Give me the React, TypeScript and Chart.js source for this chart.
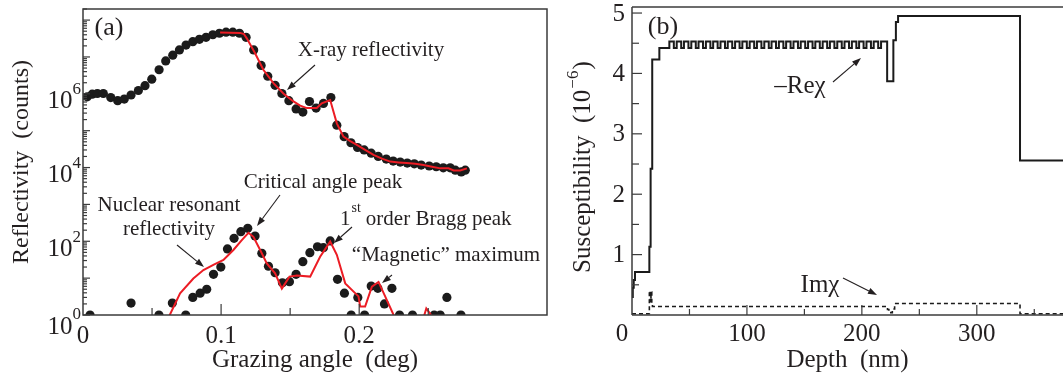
import React, { useEffect, useRef } from 'react';
import { Chart, registerables } from 'chart.js';

Chart.register(...registerables);

const FONT = '"Liberation Serif", "Times New Roman", serif';
const INK = '#231f20';
const RED = '#ec1c24';

// ---------- Panel (a): reflectivity ----------
const xrayAngle = [0.0031, 0.0067, 0.0104, 0.0147, 0.0201, 0.0251, 0.0299, 0.0348, 0.0401, 0.0449, 0.0498, 0.0551, 0.0599, 0.0650, 0.0698, 0.0746, 0.0795, 0.0843, 0.0891, 0.0940, 0.0988, 0.1036, 0.1085, 0.1133, 0.1181, 0.1236, 0.1290, 0.1338, 0.1391, 0.1440, 0.1491, 0.1543, 0.1592, 0.1640, 0.1688, 0.1741, 0.1795, 0.1838, 0.1891, 0.1940, 0.1988, 0.2036, 0.2087, 0.2138, 0.2196, 0.2246, 0.2297, 0.2348, 0.2399, 0.2449, 0.2507, 0.2558, 0.2609, 0.2659, 0.2696, 0.2739, 0.2768];
const xrayCounts = [8.3e5, 9.8e5, 1.02e6, 1.02e6, 7.9e5, 6.5e5, 7.2e5, 9.3e5, 1.23e6, 1.66e6, 2.5e6, 4.5e6, 7.8e6, 1.12e7, 1.55e7, 2.1e7, 2.6e7, 3.0e7, 3.4e7, 4.0e7, 4.4e7, 4.7e7, 4.7e7, 4.4e7, 3.4e7, 1.55e7, 5.9e6, 3.0e6, 1.7e6, 1.02e6, 6.5e5, 3.9e5, 3.2e5, 6.2e5, 4.1e5, 5.5e5, 7.9e5, 1.41e5, 6.9e4, 4.7e4, 3.5e4, 3.0e4, 2.45e4, 2.0e4, 1.7e4, 1.5e4, 1.41e4, 1.32e4, 1.26e4, 1.17e4, 1.10e4, 1.05e4, 9.8e3, 9.8e3, 8.5e3, 7.6e3, 8.5e3];

const xrayFitAngle = [0.0993, 0.1138, 0.1165, 0.1186, 0.1246, 0.1306, 0.1379, 0.1451, 0.1524, 0.1573, 0.1621, 0.1693, 0.1729, 0.1790, 0.1838, 0.1886, 0.1935, 0.1983, 0.2043, 0.2104, 0.2165, 0.2225, 0.2285, 0.2345, 0.2406, 0.2466, 0.2527, 0.2587, 0.2647, 0.2684, 0.2732, 0.2780];
const xrayFitCounts = [4.6e7, 4.5e7, 4.2e7, 3.2e7, 1.26e7, 4.5e6, 1.95e6, 1.02e6, 6.2e5, 4.8e5, 4.1e5, 4.1e5, 5.5e5, 6.8e5, 1.58e5, 6.9e4, 5.2e4, 4.1e4, 3.0e4, 2.2e4, 1.74e4, 1.45e4, 1.38e4, 1.32e4, 1.26e4, 1.17e4, 1.05e4, 9.5e3, 9.5e3, 8.3e3, 8.3e3, 9.5e3];

const nuclearAngle = [0.0051, 0.0348, 0.0550, 0.0647, 0.0744, 0.0795, 0.0848, 0.0896, 0.0945, 0.0998, 0.1046, 0.1094, 0.1143, 0.1193, 0.1246, 0.1295, 0.1343, 0.1391, 0.1444, 0.1495, 0.1543, 0.1592, 0.1643, 0.1698, 0.1741, 0.1790, 0.1843, 0.1893, 0.1942, 0.1990, 0.2039, 0.2087, 0.2135, 0.2183, 0.2237, 0.2292, 0.2386, 0.2543, 0.2587, 0.2635, 0.2737];
const nuclearCounts = [1, 2.1, 1, 2.1, 1, 3, 3.9, 5, 12.7, 20, 62, 120, 182, 225, 139, 47, 21, 14, 7.5, 8, 12.7, 28, 49, 71, 67, 102, 9.3, 3.9, 1, 3, 1, 6.1, 5.3, 2, 5.3, 1, 1, 1, 1, 3, 1];

const nuclearFitAngle = [0.0600, 0.0703, 0.0799, 0.0872, 0.0944, 0.1017, 0.1089, 0.1150, 0.1198, 0.1234, 0.1283, 0.1331, 0.1391, 0.1440, 0.1495, 0.1549, 0.1645, 0.1717, 0.1790, 0.1838, 0.1899, 0.1995, 0.2007, 0.2043, 0.2092, 0.2140, 0.2188, 0.2249, 0.2290, 0.2440, 0.2486, 0.2540, 0.2580];
const nuclearFitCounts = [0.6, 3.9, 9.8, 16.6, 23, 31, 58, 107, 170, 132, 58, 25, 13.5, 5.2, 11, 11.7, 11, 38, 98, 43, 7.2, 3.2, 1.7, 1.7, 5.9, 7.9, 3.2, 1.0, 0.4, 0.4, 1.5, 0.8, 0.4];

const angleTicks = [0.05, 0.1, 0.15, 0.2, 0.25];
const angleLabels = [0, 0.1, 0.2];
const countDecades = [0, 1, 2, 3, 4, 5, 6, 7, 8];
const countLabelExps = [0, 2, 4, 6];

// ---------- Panel (b): susceptibility profile (value holds from each depth to the next) ----------
const reDepth = [0, 0.7, 1.5, 2.6, 15.1, 16.2, 17.6, 23.8,
  32.5, 36.4, 38.9, 42.8, 45.2, 49.1, 51.6, 55.5, 57.9, 61.8,
  64.3, 68.2, 70.6, 74.5, 77.0, 80.9, 83.3, 87.2, 89.7, 93.6,
  96.0, 99.9, 102.4, 106.3, 108.7, 112.6, 115.1, 119.0, 121.4, 125.3,
  127.8, 131.7, 134.1, 138.0, 140.5, 144.4, 146.8, 150.7, 153.2, 157.1,
  159.5, 163.4, 165.9, 169.8, 172.2, 176.1, 178.6, 182.5, 184.9, 188.8,
  191.3, 195.2, 197.6, 201.5, 204.0, 207.9, 210.3, 214.2, 216.7,
  222.0, 227.4, 229.6, 231.5, 337.6, 375];
const reChi = [0.30, 0.45, 0.58, 0.71, 1.13, 2.42, 4.23, 4.42,
  4.53, 4.42, 4.53, 4.42, 4.53, 4.42, 4.53, 4.42, 4.53, 4.42,
  4.53, 4.42, 4.53, 4.42, 4.53, 4.42, 4.53, 4.42, 4.53, 4.42,
  4.53, 4.42, 4.53, 4.42, 4.53, 4.42, 4.53, 4.42, 4.53, 4.42,
  4.53, 4.42, 4.53, 4.42, 4.53, 4.42, 4.53, 4.42, 4.53, 4.42,
  4.53, 4.42, 4.53, 4.42, 4.53, 4.42, 4.53, 4.42, 4.53, 4.42,
  4.53, 4.42, 4.53, 4.42, 4.53, 4.42, 4.53, 4.42, 4.53,
  3.87, 4.55, 4.85, 4.95, 2.56, 2.56];

const imDepth = [0, 15.1, 15.8, 16.5, 17.2, 17.8, 222.3, 223.5, 226.5, 228.5, 337.6, 375];
const imChi = [0.02, 0.40, 0.22, 0.38, 0.20, 0.14, 0.09, 0.04, 0.10, 0.19, 0.02, 0.02];

const depthTicks = [50, 100, 150, 200, 250, 300, 350];
const depthLabels = [0, 100, 200, 300];
const chiTicks = [0.5, 1, 1.5, 2, 2.5, 3, 3.5, 4, 4.5, 5];
const chiLabels = [1, 2, 3, 4, 5];

// ---------- drawing helpers ----------
function txt(ctx: CanvasRenderingContext2D, s: string, x: number, y: number, size: number, align: CanvasTextAlign = 'center') {
  ctx.font = `${size}px ${FONT}`;
  ctx.textAlign = align;
  ctx.textBaseline = 'middle';
  ctx.fillStyle = INK;
  ctx.fillText(s, x, y);
}

function arrow(ctx: CanvasRenderingContext2D, x1: number, y1: number, x2: number, y2: number) {
  const head = 9, half = 3.2;
  const a = Math.atan2(y2 - y1, x2 - x1);
  const bx = x2 - head * Math.cos(a), by = y2 - head * Math.sin(a);
  ctx.strokeStyle = INK;
  ctx.fillStyle = INK;
  ctx.lineWidth = 1.1;
  ctx.beginPath(); ctx.moveTo(x1, y1); ctx.lineTo(bx, by); ctx.stroke();
  ctx.beginPath(); ctx.moveTo(x2, y2);
  ctx.lineTo(bx + half * Math.sin(a), by - half * Math.cos(a));
  ctx.lineTo(bx - half * Math.sin(a), by + half * Math.cos(a));
  ctx.closePath(); ctx.fill();
}

function line(ctx: CanvasRenderingContext2D, x1: number, y1: number, x2: number, y2: number) {
  ctx.beginPath(); ctx.moveTo(x1, y1); ctx.lineTo(x2, y2); ctx.stroke();
}

const decorA = {
  id: 'decorA',
  afterDraw(chart: any) {
    const ctx: CanvasRenderingContext2D = chart.ctx;
    const { left, right, top, bottom } = chart.chartArea;
    const xs = chart.scales.x, ys = chart.scales.y;
    ctx.save();
    ctx.strokeStyle = '#3b3b3b';
    ctx.lineWidth = 1.5;
    ctx.strokeRect(left, top, right - left, bottom - top);
    ctx.lineWidth = 1.2;
    angleTicks.forEach(v => {
      const px = xs.getPixelForValue(v);
      const long = Math.abs(v * 10 - Math.round(v * 10)) < 1e-6;
      line(ctx, px, bottom, px, bottom - (long ? 11 : 7));
    });
    countDecades.forEach(e => {
      const py = ys.getPixelForValue(Math.pow(10, e));
      if (py >= top - 0.5 && py <= bottom + 0.5) line(ctx, left, py, left + 7, py);
      for (let m = 2; m <= 9; m++) {
        const v = m * Math.pow(10, e);
        const p = ys.getPixelForValue(v);
        if (p >= top && p <= bottom) line(ctx, left, p, left + 4, p);
      }
    });
    angleLabels.forEach(v => txt(ctx, String(v), xs.getPixelForValue(v), bottom + 21, 25));
    countLabelExps.forEach(e => {
      const py = ys.getPixelForValue(Math.pow(10, e));
      const extra = e === 0 ? 4 : 0;
      ctx.font = `17px ${FONT}`;
      const ew = ctx.measureText(String(e)).width;
      txt(ctx, String(e), left - 2, py - 4 + extra, 17, 'right');
      txt(ctx, '10', left - 2 - ew, py + 8 + extra, 25, 'right');
    });
    txt(ctx, 'Grazing angle  (deg)', (left + right) / 2, 360, 25);
    ctx.save();
    ctx.translate(22, (top + bottom) / 2);
    ctx.rotate(-Math.PI / 2);
    txt(ctx, 'Reflectivity  (counts)', 0, 0, 24);
    ctx.restore();
    txt(ctx, '(a)', 109, 28, 26);
    txt(ctx, 'X-ray reflectivity', 371, 50, 21);
    arrow(ctx, 315, 65, 287, 90);
    txt(ctx, 'Critical angle peak', 323, 182, 21);
    arrow(ctx, 280, 195, 257, 226);
    txt(ctx, 'Nuclear resonant', 169, 205, 21);
    txt(ctx, 'reflectivity', 169, 229, 21);
    arrow(ctx, 177, 245, 204, 267);
    ctx.font = `21px ${FONT}`;
    const w1 = ctx.measureText('1').width;
    txt(ctx, '1', 340, 219, 21, 'left');
    ctx.font = `14px ${FONT}`;
    const wst = ctx.measureText('st').width;
    txt(ctx, 'st', 340 + w1 + 1, 208, 14, 'left');
    txt(ctx, 'order Bragg peak', 340 + w1 + wst + 6, 219, 21, 'left');
    arrow(ctx, 352, 227, 334, 243);
    txt(ctx, '\u201CMagnetic\u201D maximum', 446, 255, 21);
    arrow(ctx, 392, 275, 382, 283);
    ctx.restore();
  },
};

const decorB = {
  id: 'decorB',
  afterDraw(chart: any) {
    const ctx: CanvasRenderingContext2D = chart.ctx;
    const { left, top, bottom } = chart.chartArea;
    const xs = chart.scales.x, ys = chart.scales.y;
    const W = chart.width;
    ctx.save();
    ctx.strokeStyle = '#3b3b3b';
    ctx.lineWidth = 1.5;
    line(ctx, left, top, W, top);
    line(ctx, left, top, left, bottom);
    line(ctx, left, bottom, W, bottom);
    ctx.lineWidth = 1.2;
    chiTicks.forEach(v => {
      const py = ys.getPixelForValue(v);
      const long = Number.isInteger(v);
      line(ctx, left, py, left + (long ? 10 : 7), py);
    });
    depthTicks.forEach(v => {
      const px = xs.getPixelForValue(v);
      const long = v % 100 === 0;
      line(ctx, px, bottom, px, bottom - (long ? 10 : 6));
    });
    chiLabels.forEach(v => txt(ctx, String(v), left - 7, ys.getPixelForValue(v) + 1, 25, 'right'));
    depthLabels.forEach(v => txt(ctx, String(v), xs.getPixelForValue(v) - (v === 0 ? 10 : 0), bottom + 19, 25));
    txt(ctx, 'Depth  (nm)', (left + W) / 2, 360, 25);
    ctx.save();
    ctx.translate(23, 273);
    ctx.rotate(-Math.PI / 2);
    ctx.font = `25px ${FONT}`;
    const main = 'Susceptibility  (10';
    const wm = ctx.measureText(main).width;
    txt(ctx, main, 0, 0, 25, 'left');
    ctx.font = `17px ${FONT}`;
    const wsup = ctx.measureText('\u22126').width;
    txt(ctx, '\u22126', wm + 1, -9, 17, 'left');
    txt(ctx, ')', wm + wsup + 2, 0, 25, 'left');
    ctx.restore();
    txt(ctx, '(b)', 103, 27, 26);
    txt(ctx, '\u2013Re\u03C7', 240, 86, 25);
    arrow(ctx, 273, 82, 301, 58);
    txt(ctx, 'Im\u03C7', 260, 285, 25);
    arrow(ctx, 283, 278, 317, 295);
    ctx.restore();
  },
};

export default function App() {
  const refA = useRef<HTMLCanvasElement>(null);
  const refB = useRef<HTMLCanvasElement>(null);

  useEffect(() => {
    const common = {
      responsive: false,
      animation: false as const,
      devicePixelRatio: 1,
      events: [] as any[],
      plugins: { legend: { display: false }, tooltip: { enabled: false } },
    };
    const chartA = new Chart(refA.current!, {
      type: 'scatter',
      data: {
        datasets: [
          {
            data: xrayFitAngle.map((x, i) => ({ x, y: xrayFitCounts[i] })),
            showLine: true, borderColor: RED, borderWidth: 2, pointRadius: 0, clip: 0 as any,
          },
          {
            data: nuclearFitAngle.map((x, i) => ({ x, y: nuclearFitCounts[i] })),
            showLine: true, borderColor: RED, borderWidth: 2, pointRadius: 0, clip: 0 as any,
          },
          {
            data: xrayAngle.map((x, i) => ({ x, y: xrayCounts[i] })),
            showLine: false, pointRadius: 4.6, pointBackgroundColor: '#1b1b1b', pointBorderWidth: 0, clip: 0 as any,
          },
          {
            data: nuclearAngle.map((x, i) => ({ x, y: nuclearCounts[i] })),
            showLine: false, pointRadius: 4.6, pointBackgroundColor: '#1b1b1b', pointBorderWidth: 0, clip: 0 as any,
          },
        ],
      },
      options: {
        ...common,
        layout: { padding: { left: 83, right: 13, top: 9, bottom: 66 } },
        scales: {
          x: { type: 'linear', min: 0, max: 0.336, display: false },
          y: { type: 'logarithmic', min: 1, max: 2e8, display: false },
        },
      } as any,
      plugins: [decorA],
    });
    const chartB = new Chart(refB.current!, {
      type: 'scatter',
      data: {
        datasets: [
          {
            data: reDepth.map((x, i) => ({ x, y: reChi[i] })),
            showLine: true, stepped: 'before', borderColor: '#1b1b1b', borderWidth: 2, pointRadius: 0,
          },
          {
            data: imDepth.map((x, i) => ({ x, y: imChi[i] })),
            showLine: true, stepped: 'before', borderColor: '#1b1b1b', borderWidth: 1.6, borderDash: [4, 3], pointRadius: 0,
          },
        ],
      },
      options: {
        ...common,
        layout: { padding: { left: 72, right: 0, top: 7, bottom: 66 } },
        scales: {
          x: { type: 'linear', min: 0, max: 375, display: false },
          y: { type: 'linear', min: 0, max: 5.1, display: false },
        },
      } as any,
      plugins: [decorB],
    });
    return () => {
      chartA.destroy();
      chartB.destroy();
    };
  }, []);

  return (
    <div style={{ position: 'absolute', left: 0, top: 0, width: 1063, height: 381, background: '#fff', overflow: 'hidden' }}>
      <canvas ref={refA} width={560} height={381} style={{ position: 'absolute', left: 0, top: 0, width: 560, height: 381 }} />
      <canvas ref={refB} width={503} height={381} style={{ position: 'absolute', left: 560, top: 0, width: 503, height: 381 }} />
    </div>
  );
}
